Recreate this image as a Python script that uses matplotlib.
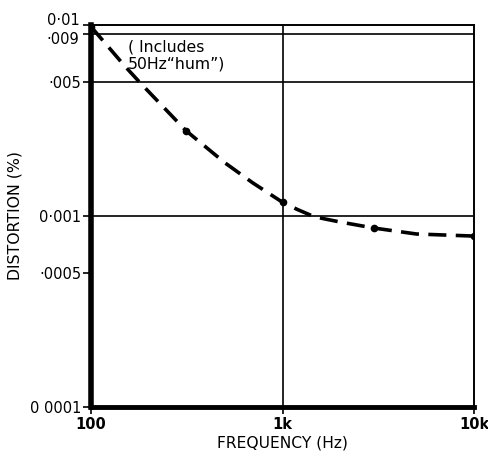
import matplotlib
matplotlib.use("Agg")
import matplotlib.pyplot as plt
from matplotlib.ticker import FixedLocator, NullLocator

# Data
curve_freq = [100, 150, 180, 313, 500, 700, 1000, 1200, 1470, 2000, 3000, 5000, 10000]
curve_dist = [0.0098, 0.0061, 0.005, 0.0028, 0.0019, 0.00149, 0.00118, 0.00108, 0.00099,
              0.00093, 0.000865, 0.000805, 0.000785]
marker_freq = [100, 313, 1000, 3000, 10000]
marker_dist = [0.0098, 0.0028, 0.00118, 0.000865, 0.000785]

y_ticks = [0.0001, 0.0005, 0.001, 0.005, 0.009, 0.01]
y_tick_labels = ["0 0001", "·0005", "0·001", "·005", "·009", "0·01"]
x_ticks = [100, 1000, 10000]
x_tick_labels = ["100", "1k", "10k"]
h_grid = [0.009, 0.005, 0.001]
v_grid = [1000]

plt.rcParams['font.family'] = ['DejaVu Sans']
fig = plt.figure(figsize=(4.88, 4.63), dpi=100)
ax = fig.add_axes([91/488, 1-407/463, (474-91)/488, (407-25)/463])
ax.set_xscale('log')
ax.set_yscale('log')
ax.set_xlim(100, 10000)
ax.set_ylim(0.0001, 0.01)

for y in h_grid:
    ax.axhline(y, color='black', lw=1.2, zorder=1)
for x in v_grid:
    ax.axvline(x, color='black', lw=1.2, zorder=1)

ax.plot(curve_freq, curve_dist, color='black', lw=2.6, dashes=(5, 2.6), zorder=3)
ax.plot(marker_freq, marker_dist, 'o', color='black', ms=4.5, zorder=4)

ax.spines['left'].set_linewidth(4)
ax.spines['bottom'].set_linewidth(3.5)
ax.spines['top'].set_linewidth(1.4)
ax.spines['right'].set_linewidth(1.4)

# y ticks: the two crowded top labels are drawn separately with a small offset
ax.yaxis.set_major_locator(FixedLocator(y_ticks))
ax.set_yticklabels(y_tick_labels[:-2] + ["", ""])
ax.yaxis.set_minor_locator(NullLocator())
ax.xaxis.set_major_locator(FixedLocator(x_ticks))
ax.set_xticklabels(x_tick_labels, fontweight='bold')
ax.xaxis.set_minor_locator(NullLocator())
ax.tick_params(axis='y', direction='out', length=6, width=1.2, labelsize=10.5, pad=1)
ax.tick_params(axis='x', direction='out', length=5, width=1.2, labelsize=10.5, pad=2)

for val, lab, dy in zip(y_ticks[-2:], y_tick_labels[-2:], (-4.5, 3.5)):
    ax.annotate(lab, xy=(0, val), xycoords=('axes fraction', 'data'),
                xytext=(-8.3, dy), textcoords='offset points',
                ha='right', va='center', fontsize=10.5, annotation_clip=False)

ax.set_ylabel("DISTORTION (%)", fontsize=11.3, labelpad=5)
ax.set_xlabel("FREQUENCY (Hz)", fontsize=11.2, labelpad=3)

ax.text(156, 0.0084, "( Includes\n50Hz\u201chum\u201d)", fontsize=11.3, va='top', ha='left',
        linespacing=1.15, zorder=5)

fig.savefig("out.png", dpi=100)
